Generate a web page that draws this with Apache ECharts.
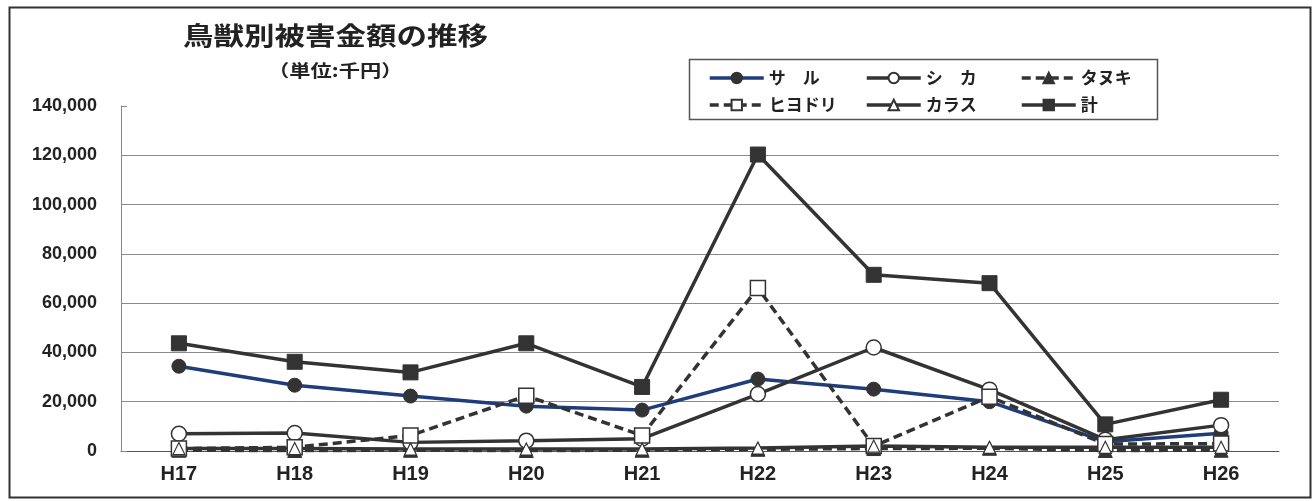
<!DOCTYPE html>
<html>
<head>
<meta charset="utf-8">
<script src="https://cdn.jsdelivr.net/npm/echarts@6/dist/echarts.min.js"></script>
<style>
html,body{margin:0;padding:0;background:#fff;}
#chart{width:1314px;height:501px;}
</style>
</head>
<body>
<div id="chart"></div>
<script>
const categories = ['H17','H18','H19','H20','H21','H22','H23','H24','H25','H26'];
const saru     = [34400, 26700, 22300, 18200, 16600, 29200, 25100, 20000, 3800, 7200];
const shika    = [7000, 7300, 3500, 4200, 5000, 23100, 42000, 24900, 4600, 10500];
const tanuki   = [300, 200, 300, 200, 300, 700, 1000, 1100, 200, 300];
const hiyodori = [1000, 1500, 6300, 22400, 6300, 66100, 2000, 22000, 2800, 3000];
const karasu   = [1000, 1000, 800, 800, 800, 1200, 2000, 1500, 1500, 1500];
const total    = [43700, 36200, 31900, 43700, 26000, 120300, 71500, 68100, 10800, 20800];
const yTicks   = [0, 20000, 40000, 60000, 80000, 100000, 120000, 140000];

const DARK = '#333333';
const NAVY = '#1f3c7c';
const chart = echarts.init(document.getElementById('chart'));

function mk(name, data, opt) {
  return Object.assign({
    name: name, type: 'line', data: data,
    symbolSize: 12,
    lineStyle: { width: 3.5, color: DARK, type: 'solid' },
    itemStyle: { color: DARK, borderColor: DARK, borderWidth: 1.5 },
    emphasis: { disabled: true },
    animation: false
  }, opt);
}

const legendText = { fontSize: 17, fontWeight: 'bold', color: '#222', fontFamily: 'Noto Sans CJK JP', lineHeight: 20 };
const legendFmt = function (n) { return n === 'サル' ? 'サ　ル' : (n === 'シカ' ? 'シ　カ' : n); };
function lg(left, names) {
  return {
    orient: 'vertical', left: left, top: 63, itemGap: 7,
    itemWidth: 54, itemHeight: 13, data: names,
    lineStyle: { width: 3.5 },
    textStyle: legendText, formatter: legendFmt, selectedMode: false
  };
}

chart.setOption({
  backgroundColor: '#ffffff',
  animation: false,
  grid: { left: 121, right: 35, top: 106, bottom: 50, containLabel: false },
  legend: [
    lg(703, ['サル', 'ヒヨドリ']),
    lg(860, ['シカ', 'カラス']),
    lg(1015, ['タヌキ', '計'])
  ],
  graphic: [
    { type: 'rect', left: 7, top: 5, shape: { width: 1301, height: 490 }, style: { fill: 'none', stroke: '#333', lineWidth: 2 }, z: 0 },
    { type: 'rect', left: 687, top: 57, shape: { width: 468, height: 60 }, style: { fill: 'none', stroke: '#555', lineWidth: 1.5 }, z: 0 },
    { type: 'text', x: 183, y: 23, scaleX: 1.22, style: { text: '鳥獣別被害金額の推移', font: 'bold 25px "Noto Sans CJK JP"', fill: '#222', textAlign: 'left', textVerticalAlign: 'top' } },
    { type: 'text', x: 268, y: 62, scaleX: 1.25, style: { text: '（単位:千円）', font: 'bold 17px "Noto Sans CJK JP"', fill: '#222', textAlign: 'left', textVerticalAlign: 'top' } }
  ],
  xAxis: {
    type: 'category', data: categories, boundaryGap: true,
    axisLine: { lineStyle: { color: '#555', width: 1 } },
    axisTick: { inside: true, length: 7, lineStyle: { color: '#555' } },
    axisLabel: { fontSize: 20, fontWeight: 'bold', color: '#222', fontFamily: 'Liberation Sans', margin: 13 },
    splitLine: { show: false }
  },
  yAxis: {
    type: 'value', min: 0, max: 140000, interval: 20000,
    axisLine: { show: true, lineStyle: { color: '#888', width: 1 } },
    axisTick: { show: true, inside: true, length: 6, lineStyle: { color: '#888' } },
    axisLabel: {
      fontSize: 18, fontWeight: 'bold', color: '#222', fontFamily: 'Liberation Sans', margin: 24,
      formatter: function (v) { return yTicks.indexOf(v) >= 0 ? v.toLocaleString('en-US') : ''; }
    },
    splitLine: { show: true, lineStyle: { color: ['#8a8a8a','#8a8a8a','#8a8a8a','#8a8a8a','#8a8a8a','#8a8a8a','#8a8a8a','rgba(0,0,0,0)'], width: 1.2 } }
  },
  series: [
    mk('サル', saru, { symbol: 'circle', symbolSize: 14, lineStyle: { width: 3.5, color: NAVY }, itemStyle: { color: DARK, borderColor: DARK, borderWidth: 1 } }),
    mk('シカ', shika, { symbol: 'circle', symbolSize: 15, itemStyle: { color: '#fff', borderColor: DARK, borderWidth: 1.5 } }),
    mk('タヌキ', tanuki, { symbol: 'triangle', symbolSize: 14, lineStyle: { width: 3.5, color: DARK, type: [9, 5] }, itemStyle: { color: DARK, borderColor: DARK, borderWidth: 1 } }),
    mk('ヒヨドリ', hiyodori, { symbol: 'rect', symbolSize: 15, lineStyle: { width: 3.5, color: DARK, type: [9, 5] }, itemStyle: { color: '#fff', borderColor: DARK, borderWidth: 1.5 } }),
    mk('カラス', karasu, { symbol: 'triangle', symbolSize: 12, itemStyle: { color: '#fff', borderColor: DARK, borderWidth: 1.2 } }),
    mk('計', total, { symbol: 'rect', symbolSize: 15, itemStyle: { color: DARK, borderColor: DARK, borderWidth: 1 } })
  ]
});
</script>
</body>
</html>
